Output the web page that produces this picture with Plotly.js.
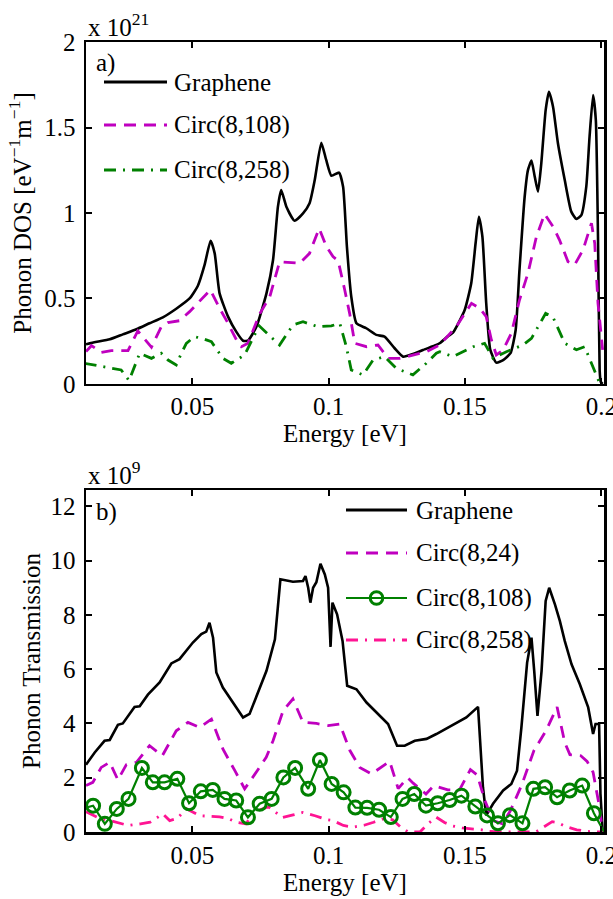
<!DOCTYPE html>
<html>
<head>
<meta charset="utf-8">
<script src="https://cdn.plot.ly/plotly-3.0.1.min.js"></script>
<style>html,body{margin:0;padding:0;background:#fff;}#chart{width:613px;height:899px;}</style>
</head>
<body>
<div id="chart"></div>
<script>
// ---------- Panel a) Phonon DOS (x 1e21 eV^-1 m^-1) ----------
const dosGrapheneE = [0.011,0.0145,0.0197,0.0245,0.0295,0.0343,0.0392,0.0441,0.049,0.052,0.0545,0.0567,0.0582,0.060,0.0631,0.0661,0.0686,0.0704,0.0735,0.0772,0.0796,0.0814,0.0826,0.0845,0.0875,0.0906,0.093,0.0949,0.0973,0.0991,0.101,0.1038,0.1053,0.1067,0.1083,0.1102,0.1138,0.1175,0.1205,0.1242,0.1273,0.1309,0.1346,0.1395,0.1407,0.1438,0.1456,0.1499,0.1523,0.1539,0.1551,0.1564,0.1578,0.1593,0.1615,0.164,0.1667,0.1686,0.170,0.1719,0.1731,0.1744,0.1756,0.1768,0.178,0.1796,0.1808,0.1823,0.1841,0.1866,0.189,0.1909,0.1927,0.1945,0.1957,0.197,0.198,0.1988,0.1994,0.1998,0.2005];
const dosGraphene  = [0.232,0.245,0.261,0.29,0.32,0.355,0.39,0.44,0.50,0.573,0.696,0.838,0.764,0.53,0.394,0.306,0.253,0.253,0.335,0.53,0.725,1.037,1.134,1.037,0.955,0.998,1.057,1.193,1.411,1.31,1.218,1.236,1.154,0.803,0.511,0.355,0.326,0.287,0.277,0.209,0.16,0.175,0.199,0.228,0.238,0.28,0.30,0.433,0.589,0.823,0.978,0.861,0.472,0.199,0.125,0.14,0.18,0.316,0.667,1.095,1.251,1.306,1.212,1.125,1.29,1.602,1.709,1.622,1.408,1.193,1.008,0.965,0.988,1.154,1.446,1.69,1.544,0.861,0.082,0.013,0.0];

const dosC108E = [0.011,0.013,0.0166,0.0203,0.0264,0.030,0.035,0.0386,0.041,0.0453,0.049,0.0566,0.060,0.0631,0.0662,0.068,0.0704,0.0747,0.0784,0.0802,0.082,0.0894,0.093,0.0965,0.0992,0.1016,0.1035,0.1059,0.1077,0.1096,0.1139,0.1181,0.1218,0.1261,0.131,0.1359,0.1407,0.1468,0.1524,0.1554,0.1578,0.1597,0.1615,0.164,0.167,0.170,0.1731,0.1762,0.1792,0.1823,0.1847,0.1878,0.1902,0.1933,0.1964,0.1976,0.1988,0.2005];
const dosC108  = [0.19,0.224,0.185,0.195,0.195,0.31,0.215,0.335,0.359,0.37,0.423,0.55,0.443,0.355,0.257,0.218,0.238,0.41,0.51,0.608,0.715,0.706,0.764,0.91,0.803,0.745,0.72,0.55,0.413,0.238,0.218,0.228,0.15,0.15,0.17,0.189,0.228,0.335,0.472,0.443,0.394,0.257,0.17,0.199,0.296,0.491,0.647,0.861,0.994,0.92,0.842,0.715,0.696,0.784,0.94,0.823,0.472,0.2];

const dosC258E = [0.0105,0.0178,0.0239,0.0268,0.0307,0.035,0.0386,0.0411,0.0441,0.046,0.0478,0.0508,0.0539,0.057,0.0612,0.0643,0.0692,0.0745,0.082,0.0869,0.0906,0.0961,0.101,0.1041,0.1065,0.1083,0.1126,0.1163,0.1205,0.1248,0.1309,0.1358,0.1395,0.1407,0.1456,0.153,0.1572,0.1603,0.1652,0.1713,0.1744,0.1796,0.1822,0.1866,0.1909,0.1939,0.197,0.1992,0.2005];
const dosC258  = [0.121,0.101,0.082,0.02,0.18,0.15,0.18,0.14,0.111,0.18,0.238,0.277,0.265,0.247,0.15,0.121,0.17,0.34,0.228,0.345,0.364,0.335,0.34,0.355,0.218,0.082,0.053,0.14,0.16,0.092,0.053,0.121,0.18,0.189,0.16,0.218,0.238,0.15,0.189,0.228,0.267,0.413,0.394,0.238,0.2,0.218,0.092,0.013,0.0];

// ---------- Panel b) Phonon Transmission (x 1e9) ----------
const trGrapheneE = [0.011,0.0142,0.0178,0.0197,0.0227,0.0245,0.0288,0.0307,0.0337,0.038,0.0423,0.0453,0.0502,0.0533,0.0551,0.0563,0.0576,0.0588,0.0612,0.0649,0.0686,0.071,0.0747,0.0772,0.0803,0.0823,0.0869,0.0906,0.0915,0.0925,0.0933,0.0943,0.0955,0.097,0.0986,0.0998,0.1007,0.1014,0.1031,0.1051,0.1068,0.1102,0.1139,0.1181,0.1218,0.1251,0.1279,0.1316,0.1359,0.1395,0.1438,0.1456,0.1505,0.1548,0.1554,0.1566,0.1578,0.1603,0.164,0.167,0.1691,0.1707,0.1728,0.1744,0.1754,0.1766,0.1781,0.1796,0.1809,0.183,0.1848,0.1866,0.1891,0.1921,0.1952,0.197,0.1979,0.1992,0.1997,0.2005];
const trGraphene  = [2.48,2.93,3.36,3.39,3.95,4.0,4.61,4.63,5.06,5.51,6.21,6.37,6.98,7.29,7.38,7.71,7.16,5.88,5.32,4.77,4.22,4.35,5.32,5.94,7.1,9.31,9.22,9.25,9.43,9.0,8.45,9.0,9.2,9.88,9.49,9.0,6.82,8.45,8.02,7.04,5.39,5.26,4.77,4.35,3.98,3.18,3.18,3.36,3.43,3.61,3.85,3.92,4.22,4.61,3.61,1.65,0.61,1.04,1.53,1.77,2.26,3.85,6.24,7.16,5.94,4.28,5.94,8.51,9.0,8.39,7.78,7.04,6.18,5.45,4.59,3.61,3.98,3.98,1.41,0.05];

const trC24E = [0.011,0.0135,0.0166,0.0197,0.0227,0.0258,0.0295,0.0325,0.0343,0.039,0.0441,0.0484,0.0527,0.057,0.0612,0.0656,0.0692,0.0722,0.0771,0.0796,0.0833,0.0869,0.0906,0.0955,0.0998,0.1041,0.1078,0.1114,0.1157,0.1224,0.1255,0.129,0.131,0.1357,0.1386,0.1437,0.148,0.152,0.1545,0.1573,0.1603,0.1638,0.1667,0.171,0.1753,0.1797,0.1838,0.1866,0.1885,0.1925,0.1948,0.197,0.1992,0.2005];
const trC24  = [1.71,1.83,2.38,2.57,1.92,2.48,2.57,2.93,3.18,2.81,3.73,4.04,3.85,4.16,3.06,2.26,1.59,2.02,2.75,3.36,4.47,4.9,4.04,4.0,3.92,3.98,3.0,2.38,2.14,2.6,1.6,2.0,1.8,1.4,1.71,1.55,1.55,2.3,2.1,1.16,0.42,0.3,0.79,1.78,3.0,3.73,4.6,3.3,2.85,2.81,2.6,2.2,1.0,0.0];

const trC108E = [0.0093,0.0136,0.0179,0.0223,0.0266,0.0315,0.0355,0.0398,0.0445,0.0488,0.0531,0.0575,0.0618,0.0661,0.0704,0.0747,0.0791,0.0834,0.0877,0.0925,0.0968,0.1011,0.1055,0.1098,0.1141,0.1185,0.1228,0.1271,0.1314,0.1357,0.140,0.1444,0.1487,0.1538,0.1581,0.1621,0.1665,0.1711,0.1751,0.1794,0.1838,0.1884,0.193,0.1973,0.2016];
const trC108  = [0.85,0.97,0.3,0.85,1.22,2.36,1.83,1.83,1.96,1.06,1.5,1.55,1.22,1.16,0.54,1.04,1.22,2.01,2.36,1.59,2.65,1.77,1.46,0.9,0.89,0.82,0.55,1.22,1.4,0.97,1.06,1.18,1.34,0.94,0.61,0.32,0.62,0.32,1.59,1.65,1.28,1.53,1.71,0.69,-0.1];

const trC258E = [0.011,0.016,0.020,0.0265,0.031,0.0345,0.0392,0.0417,0.0445,0.0478,0.0527,0.060,0.063,0.0661,0.0698,0.0722,0.078,0.083,0.087,0.0905,0.095,0.0995,0.1016,0.1054,0.109,0.113,0.1165,0.1205,0.1235,0.1262,0.1292,0.1335,0.1364,0.1394,0.1425,0.1455,0.149,0.153,0.1562,0.159,0.163,0.176,0.1797,0.182,0.184,0.187,0.191,0.195,0.2005];
const trC258  = [0.75,0.5,0.42,0.24,0.3,0.36,0.67,0.42,0.5,0.86,0.6,0.56,0.5,0.36,0.3,0.73,0.93,0.53,0.63,0.72,0.6,0.45,0.42,0.24,0.18,0.25,0.36,0.5,0.45,0.2,0.0,0.0,0.3,0.55,0.35,0.22,0.15,0.12,0.08,0.02,0.0,0.0,0.24,0.38,0.35,0.2,0.08,0.02,0.0];

// axis ticks
const xTickVals = [0.05,0.1,0.15,0.2];
const xTickText = ['0.05','0.1','0.15','0.2'];
const yTopTickVals = [0,0.5,1,1.5,2];
const yTopTickText = ['0','0.5','1','1.5','2'];
const yBotTickVals = [0,2,4,6,8,10,12];
const yBotTickText = ['0','2','4','6','8','10','12'];

// legend labels
const legendTop = ['Graphene','Circ(8,108)','Circ(8,258)'];
const legendBot = ['Graphene','Circ(8,24)','Circ(8,108)','Circ(8,258)'];

const BLACK='#000000', MAG='#bf00bf', GREEN='#008000', PINK='#ff1493';
const DASH='12px,8px', DASHDOT='12px,7px,2px,7px';
const XMIN=0.011, XMAX=0.201;
const FONT='Liberation Serif, Times New Roman, Times, serif';

const traces = [
  {x:dosGrapheneE, y:dosGraphene, xaxis:'x', yaxis:'y', mode:'lines', line:{color:BLACK,width:2.6,shape:'spline',smoothing:0.5}},
  {x:dosC108E, y:dosC108, xaxis:'x', yaxis:'y', mode:'lines', line:{color:MAG,width:2.8,dash:DASH}},
  {x:dosC258E, y:dosC258, xaxis:'x', yaxis:'y', mode:'lines', line:{color:GREEN,width:2.8,dash:DASHDOT}},
  {x:trGrapheneE, y:trGraphene, xaxis:'x2', yaxis:'y2', mode:'lines', line:{color:BLACK,width:2.6}},
  {x:trC24E, y:trC24, xaxis:'x2', yaxis:'y2', mode:'lines', line:{color:MAG,width:2.8,dash:DASH}},
  {x:trC258E, y:trC258, xaxis:'x2', yaxis:'y2', mode:'lines', line:{color:PINK,width:2.8,dash:DASHDOT}},
  {x:trC108E, y:trC108, xaxis:'x2', yaxis:'y2', mode:'lines+markers',
   line:{color:GREEN,width:2.2},
   marker:{symbol:'circle-open', size:trC108E.map(e => (e>=XMIN && e<=XMAX) ? 13 : 0), color:GREEN, opacity:1, line:{width:3,color:GREEN}}}
];

// paper-coordinate helpers (plot area: x 86..604 px, y 42..832 px)
const PX = p => (p-86)/518;
const PY = p => (832-p)/790;

function axisX(anchor, title){
  return {anchor:anchor, domain:[0,1], range:[XMIN,XMAX], tickmode:'array', tickvals:xTickVals, ticktext:xTickText,
    ticks:'inside', ticklen:6, tickwidth:2, tickcolor:'#000', showline:true, linewidth:2.5, linecolor:'#000',
    mirror:'allticks', showgrid:false, zeroline:false, automargin:false, ticklabelstandoff:-1, ticklabeloverflow:'allow',
    tickfont:{size:25, family:FONT}, title:{text:title, standoff:3, font:{size:25, family:FONT}}};
}
function axisY(anchor, domain, range, tv, tt, title, standoff){
  return {anchor:anchor, domain:domain, range:range, tickmode:'array', tickvals:tv, ticktext:tt,
    ticks:'inside', ticklen:6, tickwidth:2, tickcolor:'#000', showline:true, linewidth:2.5, linecolor:'#000',
    mirror:'allticks', showgrid:false, zeroline:false, automargin:false, ticklabelstandoff:3, ticklabeloverflow:'allow',
    tickfont:{size:25, family:FONT}, title:{text:title, standoff:standoff, font:{size:25, family:FONT}}};
}

const topLegY = [82,125,170];
const botLegY = [510,553,598,640];
const topStyles = [{color:BLACK,dash:'solid'},{color:MAG,dash:DASH},{color:GREEN,dash:DASHDOT}];
const botStyles = [{color:BLACK,dash:'solid'},{color:MAG,dash:DASH},{color:GREEN,dash:'solid'},{color:PINK,dash:DASHDOT}];

const shapes = [];
const annotations = [];
legendTop.forEach((t,i)=>{
  shapes.push({type:'line', xref:'paper', yref:'paper', x0:PX(104), x1:PX(167), y0:PY(topLegY[i]), y1:PY(topLegY[i]),
    line:{color:topStyles[i].color, width:2.8, dash:topStyles[i].dash}});
  annotations.push({xref:'paper', yref:'paper', x:PX(172), y:PY(topLegY[i]), xanchor:'left', yanchor:'middle', text:t, showarrow:false, font:{size:25, family:FONT}});
});
legendBot.forEach((t,i)=>{
  shapes.push({type:'line', xref:'paper', yref:'paper', x0:PX(346), x1:PX(407), y0:PY(botLegY[i]), y1:PY(botLegY[i]),
    line:{color:botStyles[i].color, width:(i===2?2.2:2.8), dash:botStyles[i].dash}});
  annotations.push({xref:'paper', yref:'paper', x:PX(414), y:PY(botLegY[i]), xanchor:'left', yanchor:'middle', text:t, showarrow:false, font:{size:25, family:FONT}});
});
// legend marker for Circ(8,108)
shapes.push({type:'circle', xref:'paper', yref:'paper', xsizemode:'pixel', ysizemode:'pixel',
  xanchor:PX(376.5), yanchor:PY(598), x0:-6.3, x1:6.3, y0:-6.3, y1:6.3, line:{color:GREEN,width:3}, fillcolor:'rgba(0,0,0,0)'});

annotations.push({xref:'paper', yref:'paper', x:PX(94), y:PY(63), xanchor:'left', yanchor:'middle', text:'a)', showarrow:false, font:{size:25, family:FONT}});
annotations.push({xref:'paper', yref:'paper', x:PX(94), y:PY(512), xanchor:'left', yanchor:'middle', text:'b)', showarrow:false, font:{size:25, family:FONT}});
annotations.push({xref:'paper', yref:'paper', x:PX(86), y:PY(25), xanchor:'left', yanchor:'middle', text:'x 10<sup>21</sup>', showarrow:false, font:{size:25, family:FONT}});
annotations.push({xref:'paper', yref:'paper', x:PX(86), y:PY(473), xanchor:'left', yanchor:'middle', text:'x 10<sup>9</sup>', showarrow:false, font:{size:25, family:FONT}});

const layout = {
  width:613, height:899, margin:{l:86, r:9, t:42, b:67},
  paper_bgcolor:'#fff', plot_bgcolor:'#fff', showlegend:false,
  font:{family:FONT, size:25, color:'#000'},
  xaxis: axisX('y','Energy [eV]'),
  yaxis: axisY('x',[0.5671,1],[0,2],yTopTickVals,yTopTickText,'Phonon DOS [eV<sup>−1</sup>m<sup>−1</sup>]',6),
  xaxis2: axisX('y2','Energy [eV]'),
  yaxis2: axisY('x2',[0,0.4329],[0,12.6],yBotTickVals,yBotTickText,'Phonon Transmission',3),
  shapes:shapes, annotations:annotations
};

Plotly.newPlot('chart', traces, layout, {staticPlot:true, displayModeBar:false});
</script>
</body>
</html>
